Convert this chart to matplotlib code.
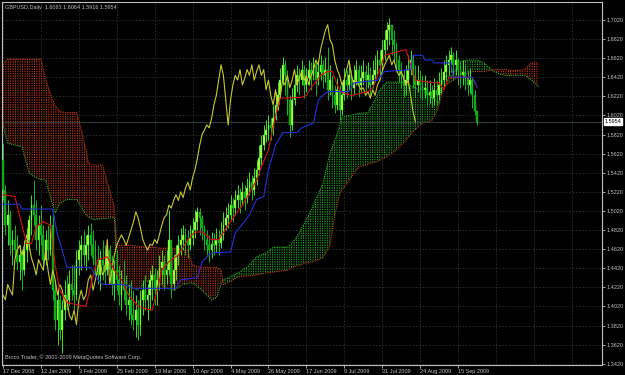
import numpy as np
import matplotlib.pyplot as plt

# ---------------------------------------------
# data (daily bars, bar 0 = 17 Dec 2008)
# ---------------------------------------------
TITLE = "GBPUSD.Daily  1.6063 1.6064 1.5916 1.5954"
COPYRIGHT = "Broco Trader, © 2001-2009 MetaQuotes Software Corp."
LAST_PRICE = 1.5954

DATE_LABELS = ["17 Dec 2008", "12 Jan 2009", "3 Feb 2009", "25 Feb 2009",
               "19 Mar 2009", "10 Apr 2009", "4 May 2009", "26 May 2009",
               "17 Jun 2009", "9 Jul 2009", "31 Jul 2009", "24 Aug 2009",
               "15 Sep 2009"]
BARS_PER_LABEL = 16

FIRST_OPEN = 1.555
HIGH = [1.573, 1.529, 1.513, 1.503, 1.482, 1.487, 1.477, 1.466, 1.461, 1.472,
        1.484, 1.498, 1.519, 1.534, 1.513, 1.498, 1.508, 1.487, 1.482, 1.487,
        1.498, 1.503, 1.430, 1.419, 1.414, 1.409, 1.430, 1.435, 1.440, 1.445,
        1.445, 1.461, 1.472, 1.477, 1.482, 1.477, 1.487, 1.489, 1.482, 1.472,
        1.466, 1.461, 1.472, 1.466, 1.472, 1.466, 1.456, 1.451, 1.461, 1.445,
        1.440, 1.451, 1.435, 1.425, 1.430, 1.419, 1.414, 1.409, 1.419, 1.430,
        1.435, 1.425, 1.440, 1.445, 1.442, 1.440, 1.456, 1.461, 1.456, 1.461,
        1.503, 1.472, 1.456, 1.466, 1.477, 1.484, 1.487, 1.484, 1.482, 1.487,
        1.495, 1.503, 1.506, 1.505, 1.498, 1.487, 1.482, 1.477, 1.480, 1.479,
        1.484, 1.482, 1.490, 1.501, 1.506, 1.510, 1.519, 1.516, 1.524, 1.529,
        1.526, 1.532, 1.529, 1.537, 1.543, 1.540, 1.547, 1.555, 1.571, 1.582,
        1.592, 1.597, 1.602, 1.599, 1.613, 1.627, 1.637, 1.652, 1.663, 1.660,
        1.650, 1.623, 1.631, 1.644, 1.655, 1.652, 1.660, 1.655, 1.652, 1.660,
        1.658, 1.663, 1.658, 1.660, 1.665, 1.660, 1.663, 1.674, 1.655, 1.644,
        1.634, 1.641, 1.634, 1.637, 1.652, 1.650, 1.657, 1.650, 1.655, 1.660,
        1.655, 1.655, 1.660, 1.655, 1.658, 1.653, 1.660, 1.665, 1.671, 1.671,
        1.681, 1.691, 1.700, 1.704, 1.697, 1.691, 1.679, 1.665, 1.658, 1.650,
        1.655, 1.665, 1.671, 1.665, 1.655, 1.655, 1.650, 1.644, 1.644, 1.639,
        1.639, 1.634, 1.641, 1.639, 1.648, 1.652, 1.660, 1.665, 1.671, 1.674,
        1.668, 1.671, 1.662, 1.658, 1.660, 1.655, 1.650, 1.652, 1.641, 1.629,
        1.6064]
LOW = [1.513, 1.477, 1.466, 1.456, 1.445, 1.453, 1.440, 1.430, 1.419, 1.435,
       1.449, 1.461, 1.477, 1.487, 1.461, 1.456, 1.466, 1.440, 1.445, 1.451,
       1.456, 1.409, 1.377, 1.362, 1.367, 1.353, 1.388, 1.398, 1.404, 1.409,
       1.398, 1.409, 1.435, 1.440, 1.445, 1.440, 1.451, 1.456, 1.445, 1.435,
       1.425, 1.419, 1.430, 1.425, 1.435, 1.430, 1.414, 1.409, 1.419, 1.404,
       1.398, 1.409, 1.393, 1.388, 1.383, 1.377, 1.370, 1.367, 1.372, 1.393,
       1.398, 1.388, 1.398, 1.409, 1.404, 1.404, 1.419, 1.425, 1.419, 1.425,
       1.435, 1.411, 1.419, 1.430, 1.445, 1.456, 1.461, 1.456, 1.453, 1.461,
       1.466, 1.474, 1.482, 1.477, 1.472, 1.461, 1.456, 1.449, 1.453, 1.456,
       1.459, 1.456, 1.463, 1.472, 1.482, 1.484, 1.493, 1.490, 1.498, 1.505,
       1.500, 1.508, 1.503, 1.510, 1.519, 1.513, 1.519, 1.529, 1.540, 1.550,
       1.566, 1.574, 1.576, 1.576, 1.582, 1.597, 1.608, 1.620, 1.634, 1.623,
       1.602, 1.579, 1.587, 1.613, 1.627, 1.623, 1.634, 1.620, 1.627, 1.634,
       1.629, 1.639, 1.623, 1.634, 1.639, 1.631, 1.637, 1.618, 1.623, 1.610,
       1.605, 1.608, 1.597, 1.602, 1.618, 1.620, 1.629, 1.618, 1.623, 1.634,
       1.621, 1.627, 1.634, 1.627, 1.631, 1.621, 1.631, 1.637, 1.644, 1.639,
       1.650, 1.660, 1.671, 1.676, 1.665, 1.660, 1.648, 1.637, 1.631, 1.621,
       1.623, 1.634, 1.644, 1.631, 1.621, 1.627, 1.621, 1.618, 1.620, 1.613,
       1.615, 1.611, 1.613, 1.613, 1.618, 1.626, 1.631, 1.639, 1.644, 1.648,
       1.639, 1.644, 1.634, 1.631, 1.634, 1.629, 1.623, 1.626, 1.610, 1.602,
       1.5916]
CLOSE = [1.524, 1.487, 1.498, 1.466, 1.472, 1.461, 1.449, 1.456, 1.440, 1.461,
         1.472, 1.493, 1.508, 1.498, 1.472, 1.487, 1.477, 1.451, 1.472, 1.461,
         1.487, 1.419, 1.388, 1.409, 1.377, 1.398, 1.414, 1.409, 1.425, 1.419,
         1.414, 1.451, 1.461, 1.466, 1.456, 1.466, 1.477, 1.466, 1.453, 1.445,
         1.435, 1.451, 1.445, 1.440, 1.461, 1.440, 1.425, 1.440, 1.430, 1.414,
         1.425, 1.419, 1.404, 1.409, 1.393, 1.388, 1.398, 1.383, 1.409, 1.419,
         1.409, 1.414, 1.430, 1.435, 1.419, 1.430, 1.442, 1.449, 1.435, 1.440,
         1.472, 1.425, 1.440, 1.456, 1.466, 1.472, 1.477, 1.472, 1.466, 1.474,
         1.482, 1.490, 1.501, 1.495, 1.484, 1.472, 1.466, 1.461, 1.467, 1.466,
         1.472, 1.468, 1.477, 1.487, 1.495, 1.498, 1.508, 1.505, 1.513, 1.519,
         1.513, 1.522, 1.516, 1.526, 1.532, 1.524, 1.537, 1.545, 1.557, 1.571,
         1.582, 1.587, 1.592, 1.589, 1.599, 1.613, 1.623, 1.639, 1.655, 1.644,
         1.618, 1.592, 1.618, 1.634, 1.644, 1.639, 1.650, 1.634, 1.641, 1.650,
         1.644, 1.655, 1.639, 1.648, 1.655, 1.644, 1.650, 1.629, 1.639, 1.623,
         1.613, 1.629, 1.608, 1.623, 1.639, 1.634, 1.644, 1.631, 1.639, 1.650,
         1.634, 1.641, 1.648, 1.639, 1.644, 1.634, 1.644, 1.650, 1.660, 1.655,
         1.671, 1.681, 1.691, 1.697, 1.681, 1.676, 1.660, 1.650, 1.644, 1.634,
         1.639, 1.650, 1.660, 1.644, 1.634, 1.639, 1.634, 1.629, 1.631, 1.623,
         1.627, 1.620, 1.629, 1.623, 1.634, 1.639, 1.648, 1.655, 1.660, 1.665,
         1.655, 1.660, 1.650, 1.644, 1.648, 1.641, 1.634, 1.639, 1.623, 1.6063,
         1.5954]

# Ichimoku lines, sampled along the bars
TENKAN_BARS = [0, 5, 8, 10, 12, 14, 17, 20, 22, 24, 27, 35, 38, 40, 44, 47, 50,
               53, 57, 63, 65, 67, 70, 74, 78, 81, 84, 88, 91, 95, 98, 101, 104,
               107, 109, 112, 115, 117, 126, 128, 130, 134, 137, 139, 141, 143,
               147, 154, 156, 159, 161, 164, 170, 172, 174, 179, 184, 186, 188,
               190, 198, 200]
TENKAN = [1.519, 1.517, 1.487, 1.468, 1.468, 1.485, 1.491, 1.487, 1.445, 1.419,
          1.406, 1.402, 1.435, 1.451, 1.454, 1.440, 1.430, 1.414, 1.402, 1.398,
          1.419, 1.440, 1.449, 1.456, 1.472, 1.480, 1.480, 1.472, 1.472, 1.487,
          1.498, 1.508, 1.521, 1.534, 1.548, 1.566, 1.602, 1.620, 1.621, 1.623,
          1.631, 1.644, 1.648, 1.648, 1.634, 1.626, 1.623, 1.627, 1.631, 1.650,
          1.665, 1.667, 1.671, 1.655, 1.639, 1.637, 1.636, 1.629, 1.641, 1.642,
          1.642, 1.632]
KIJUN_BARS = [0, 7, 8, 21, 23, 25, 27, 37, 40, 42, 51, 55, 73, 75, 82, 84, 88,
              96, 98, 100, 104, 107, 110, 112, 115, 118, 124, 126, 131, 133, 135,
              137, 146, 148, 158, 161, 172, 173, 177, 178, 181, 182, 189, 190,
              198, 200]
KIJUN = [1.509, 1.509, 1.504, 1.504, 1.477, 1.461, 1.443, 1.443, 1.430, 1.425,
         1.425, 1.421, 1.421, 1.430, 1.432, 1.449, 1.458, 1.459, 1.479, 1.485,
         1.498, 1.514, 1.517, 1.545, 1.571, 1.584, 1.584, 1.589, 1.594, 1.618,
         1.623, 1.627, 1.627, 1.636, 1.639, 1.648, 1.650, 1.665, 1.665, 1.660,
         1.660, 1.657, 1.657, 1.642, 1.642, 1.632]
SPAN_BARS = [0, 2, 8, 11, 13, 16, 18, 21, 22, 24, 27, 31, 32, 35, 36, 38, 42,
             47, 48, 52, 55, 57, 60, 64, 66, 68, 72, 76, 78, 80, 84, 88, 90, 92,
             93, 96, 99, 103, 107, 111, 114, 120, 122, 125, 128, 131, 132, 135,
             138, 140, 142, 143, 146, 150, 154, 155, 157, 159, 162, 166, 168,
             170, 173, 176, 177, 180, 181, 183, 184, 185, 186, 187, 190, 192,
             194, 196, 198, 200, 203, 207, 210, 212, 215, 220, 223, 226]
SPAN_A = [1.592, 1.573, 1.569, 1.542, 1.538, 1.535, 1.534, 1.508, 1.500, 1.510,
          1.514, 1.514, 1.510, 1.498, 1.496, 1.493, 1.494, 1.495, 1.442, 1.425,
          1.421, 1.419, 1.428, 1.430, 1.426, 1.422, 1.419, 1.425, 1.426, 1.427,
          1.419, 1.409, 1.411, 1.425, 1.430, 1.433, 1.437, 1.443, 1.454, 1.458,
          1.464, 1.464, 1.468, 1.479, 1.493, 1.508, 1.514, 1.531, 1.563, 1.576,
          1.590, 1.600, 1.602, 1.604, 1.605, 1.610, 1.618, 1.629, 1.637, 1.637,
          1.637, 1.635, 1.632, 1.629, 1.628, 1.623, 1.621, 1.617, 1.615, 1.634,
          1.642, 1.643, 1.644, 1.658, 1.659, 1.660, 1.660, 1.660, 1.657, 1.648,
          1.645, 1.644, 1.644, 1.644, 1.639, 1.632]
SPAN_B = [1.655, 1.661, 1.661, 1.661, 1.661, 1.661, 1.639, 1.618, 1.612, 1.606,
          1.605, 1.605, 1.597, 1.566, 1.552, 1.550, 1.550, 1.506, 1.466, 1.466,
          1.466, 1.465, 1.464, 1.464, 1.463, 1.463, 1.463, 1.462, 1.461, 1.445,
          1.443, 1.443, 1.443, 1.440, 1.425, 1.428, 1.433, 1.434, 1.435, 1.437,
          1.438, 1.440, 1.443, 1.445, 1.448, 1.449, 1.450, 1.453, 1.466, 1.498,
          1.519, 1.524, 1.534, 1.548, 1.551, 1.552, 1.553, 1.555, 1.559, 1.566,
          1.571, 1.576, 1.585, 1.592, 1.594, 1.596, 1.597, 1.606, 1.613, 1.623,
          1.631, 1.634, 1.639, 1.642, 1.645, 1.646, 1.648, 1.648, 1.648, 1.650,
          1.650, 1.650, 1.649, 1.650, 1.657, 1.657]
CHIKOU_SHIFT = 26

# ---------------------------------------------
# colours (MT4 style, black background)
# ---------------------------------------------
BG = "#000000"
FG = "#c0c0c0"
GRID = "#24332f"
BULL_BODY, BULL_WICK = "#b6ff46", "#3fe02c"
BEAR_BODY, BEAR_WICK = "#10a81a", "#16b81e"
TENKAN_C, KIJUN_C, CHIKOU_C = "#d81010", "#2430d8", "#c8c832"
CLOUD_RED, CLOUD_GREEN = "#c83818", "#22b022"

plt.rcParams["hatch.linewidth"] = 0.7
plt.rcParams["font.family"] = ["Liberation Sans", "DejaVu Sans"]
FS = 4.0

fig = plt.figure(figsize=(6.25, 3.75), dpi=100, facecolor=BG)
ax = fig.add_axes([2 / 625, 10 / 375, 600 / 625, 363 / 375])
ax.set_facecolor(BG)
ax.set_xlim(-0.42, 252.74)
ax.set_ylim(1.3407, 1.7208)

# grid
yticks = np.arange(1.342, 1.7021, 0.02)
xticks = np.arange(len(DATE_LABELS)) * BARS_PER_LABEL
extra_grid = np.arange(len(DATE_LABELS), 16) * BARS_PER_LABEL
for y in yticks:
    ax.axhline(y, color=GRID, lw=0.6, ls=(0, (2, 2)), zorder=0)
for x in np.concatenate([xticks, extra_grid]):
    ax.axvline(x, color=GRID, lw=0.6, ls=(0, (2, 2)), zorder=0)

# cloud
sb = np.array(SPAN_BARS)
sa = np.array(SPAN_A)
sbb = np.array(SPAN_B)
ax.fill_between(sb, sa, sbb, where=sbb >= sa, interpolate=True, facecolor="none",
                edgecolor=CLOUD_RED, hatch="|||||||", lw=0, zorder=1)
ax.fill_between(sb, sa, sbb, where=sa > sbb, interpolate=True, facecolor="none",
                edgecolor=CLOUD_GREEN, hatch="|||||||", lw=0, zorder=1)
# break the hatch into dots
ax.fill_between(sb, sa, sbb, facecolor="none", edgecolor=BG,
                hatch="-------", lw=0, zorder=1.1)
ax.plot(sb, sa, color=CLOUD_GREEN, lw=0.8, ls=(0, (1, 1)), zorder=1.5)
ax.plot(sb, sbb, color=CLOUD_RED, lw=0.8, ls=(0, (1, 1)), zorder=1.5)

# bid line
ax.axhline(LAST_PRICE, color="#303a3a", lw=0.8, zorder=1.6)

# candles
close = np.array(CLOSE)
opens = np.concatenate([[FIRST_OPEN], close[:-1]])
high = np.maximum(np.array(HIGH), np.maximum(opens, close))
low = np.minimum(np.array(LOW), np.minimum(opens, close))
bars = np.arange(len(close))
up = close >= opens
ax.vlines(bars[up], low[up], high[up], colors=BULL_WICK, lw=0.7, zorder=3)
ax.vlines(bars[~up], low[~up], high[~up], colors=BEAR_WICK, lw=0.7, zorder=3)
body = np.maximum(np.abs(close - opens), 0.0008)
ax.bar(bars[up], body[up], bottom=np.minimum(opens, close)[up], width=0.75,
       color=BULL_BODY, edgecolor=BULL_WICK, lw=0.3, zorder=3.1)
ax.bar(bars[~up], body[~up], bottom=np.minimum(opens, close)[~up], width=0.75,
       color=BEAR_BODY, edgecolor=BEAR_WICK, lw=0.3, zorder=3.1)

# indicator lines
ax.plot(bars[:-CHIKOU_SHIFT], close[CHIKOU_SHIFT:], color=CHIKOU_C, lw=0.8, zorder=4)
ax.plot(TENKAN_BARS, TENKAN, color=TENKAN_C, lw=0.8, zorder=4.1)
ax.plot(KIJUN_BARS, KIJUN, color=KIJUN_C, lw=0.8, zorder=4.1)

# axes styling
for sp in ax.spines.values():
    sp.set_color(FG)
    sp.set_linewidth(0.8)
ax.yaxis.tick_right()
ax.set_yticks(yticks)
ax.set_yticklabels([f"{v:.4f}" for v in yticks])
ax.set_xticks(xticks)
ax.set_xticklabels(DATE_LABELS)
ax.tick_params(axis="both", colors=FG, labelsize=FS, length=2, width=0.6, pad=1)
for lbl in ax.get_xticklabels():
    lbl.set_ha("left")

ax.text(1.004, LAST_PRICE, f"{LAST_PRICE:.4f}", transform=ax.get_yaxis_transform(),
        fontsize=FS, color="black", va="center", ha="left",
        bbox=dict(facecolor="white", edgecolor="white", pad=0.6), zorder=10)

fig.text(5 / 625, 1 - 7 / 375, TITLE, color=FG, fontsize=FS, va="center", ha="left")
fig.text(5 / 625, 1 - 357 / 375, COPYRIGHT, color=FG, fontsize=FS, va="center", ha="left")

fig.savefig("out.png", dpi=100, facecolor=BG)
